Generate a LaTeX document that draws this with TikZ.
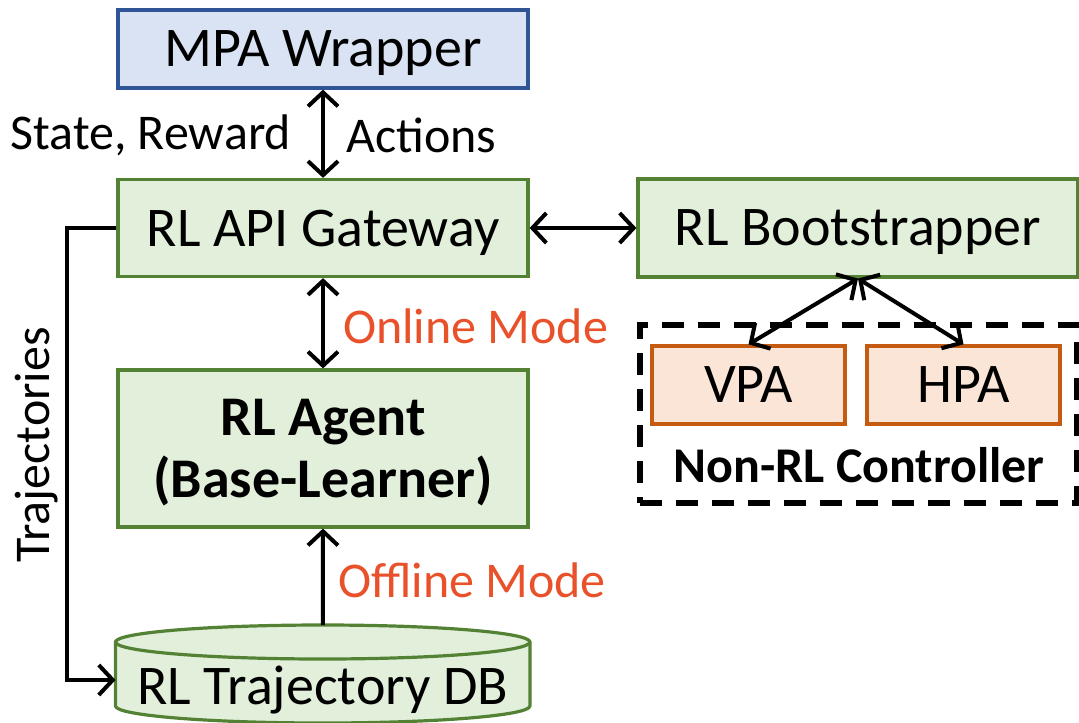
\documentclass[tikz,border=0pt]{standalone}
\usepackage{fontspec}
\setmainfont{Carlito}
\usepackage{xcolor}
\usepackage{tikz}
\usetikzlibrary{arrows.meta,positioning,shapes.geometric,fit,calc,backgrounds}
\definecolor{bluefill}{HTML}{DAE3F3}
\definecolor{blueline}{HTML}{2F5597}
\definecolor{greenfill}{HTML}{E2EFDA}
\definecolor{greenline}{HTML}{548235}
\definecolor{orangefill}{HTML}{FBE5D6}
\definecolor{orangeline}{HTML}{C55A11}
\definecolor{modered}{HTML}{E8512A}

\begin{document}
\begin{tikzpicture}[x=0.5pt,y=-0.5pt,font=\fontsize{28}{31}\selectfont,
  box/.style={draw,line width=1.6pt,inner sep=0pt,text depth=0pt},
  bluebox/.style={box,draw=blueline,fill=bluefill},
  greenbox/.style={box,draw=greenline,fill=greenfill},
  paabox/.style={box,draw=orangeline,fill=orangefill,minimum width=96.5pt,minimum height=39pt},
  link/.style={line width=2pt,{Straight Barb[length=7pt,width=15pt]}-{Straight Barb[length=7pt,width=15pt]}},
  onelink/.style={line width=2pt,-{Straight Barb[length=7pt,width=15pt]}},
  modelab/.style={text=modered,anchor=west,font=\fontsize{25}{30}\selectfont},
  sidelab/.style={font=\fontsize{25}{30}\selectfont}]
  \useasboundingbox (0,0) rectangle (1079,722);
  \node[bluebox,minimum width=205pt,minimum height=39pt] (mpa) at (323,49) {MPA Wrapper};
  \node[greenbox,minimum width=205pt,minimum height=48.5pt] (gw) at (323,228) {RL API Gateway};
  \node[greenbox,minimum width=220pt,minimum height=49pt] (boot) at (858,228) {RL Bootstrapper};
  \node[greenbox,minimum width=205pt,minimum height=78.5pt,align=center,font=\fontsize{28}{31}\selectfont\bfseries] (agent) at (323,448.5) {RL Agent\\(Base-Learner)};
  % trajectory store
  \filldraw[fill=greenfill,draw=greenline,line width=1.6pt]
    (115.5,642) -- (115.5,706) arc[start angle=180,end angle=360,x radius=103.6pt,y radius=8.5pt]
    -- (530,642) arc[start angle=0,end angle=180,x radius=103.6pt,y radius=8.5pt] -- cycle;
  \draw[greenline,line width=1.6pt] (115.5,642) arc[start angle=180,end angle=360,x radius=103.6pt,y radius=8.5pt];
  \coordinate (dbtop) at (322.75,625);
  \coordinate (dbleft) at (115.5,680);
  \node (db) at (322.75,690) {RL Trajectory DB};
  % non-RL controller
  \node[draw,line width=3pt,dash pattern=on 11pt off 7pt,minimum width=218.5pt,minimum height=89pt] (ctrl) at (858.5,414) {};
  \foreach \n/\x in {VPA/748.5,HPA/963.5}
    \node[paabox] (\n) at (\x,385) {\n};
  \node[font=\fontsize{25}{30}\selectfont\bfseries] (ctrllab) at (859,465) {Non-RL Controller};
  % connectors
  \draw[link] (mpa.south) -- (gw.north);
  \node[sidelab,anchor=east] (sr) at (298,135) {State, Reward};
  \node[sidelab,anchor=west] (act) at (339,135) {Actions};
  \draw[link] (gw.east) -- (boot.west);
  \draw[link] (gw.south) -- (agent.north);
  \node[modelab] (online) at (336,326) {Online Mode};
  \draw[onelink] (dbtop) -- (agent.south);
  \node[modelab] (offline) at (331,580) {Offline Mode};
  \draw[link] (boot.south) -- (VPA.north);
  \draw[link] (boot.south) -- (HPA.north);
  \coordinate (bend) at (67,680);
  \draw[onelink] (gw.west) -| (bend) -- (dbleft);
  \node[sidelab,rotate=90] (traj) at (37,445) {Trajectories};
\end{tikzpicture}
\end{document}
